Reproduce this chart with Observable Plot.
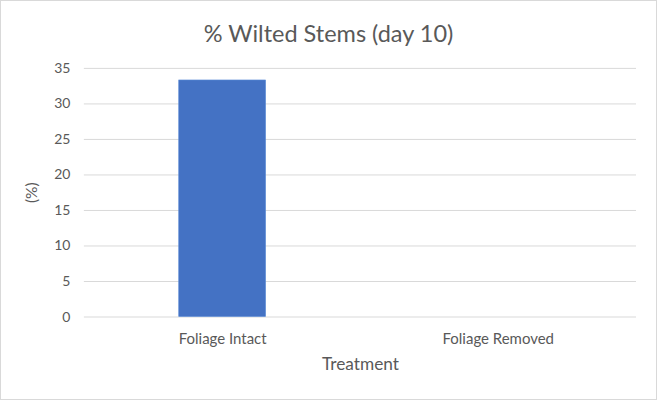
<!DOCTYPE html>
<html>
<head>
<meta charset="utf-8">
<script src="https://cdn.jsdelivr.net/npm/d3@7"></script>
<script src="https://cdn.jsdelivr.net/npm/@observablehq/plot@0.6"></script>
<style>
  html, body { margin: 0; padding: 0; background: #fff; }
  #wrap { position: relative; width: 657px; height: 400px; box-sizing: border-box; border: 1px solid #d9d9d9; overflow: hidden; font-family: Lato, "Open Sans", sans-serif; }
  #title { position: absolute; left: 0; right: 0; top: 16px; text-align: center; font-size: 23.5px; color: #595959; line-height: 32px; }
  #chart { position: absolute; left: -1px; top: -1px; }
</style>
</head>
<body>
<div id="wrap">
  <div id="chart"></div>
  <div id="title">% Wilted Stems (day 10)</div>
</div>
<script>
const categories = ["Foliage Intact", "Foliage Removed"];
const values = [33.3, 0];
const yTicks = [0, 5, 10, 15, 20, 25, 30, 35];
const xTitle = "Treatment";
const yTitle = "(%)";

const data = categories.map((c, i) => ({cat: c, val: values[i]}));

const chart = Plot.plot({
  width: 657,
  height: 400,
  marginTop: 68,
  marginBottom: 83,
  marginLeft: 84,
  marginRight: 20,
  style: {fontFamily: "Lato, 'Open Sans', sans-serif", fontSize: "15px", color: "#595959", background: "transparent"},
  x: {domain: categories, paddingInner: 0.686, paddingOuter: 0.343},
  y: {domain: [0, 35]},
  marks: [
    Plot.gridY(yTicks, {stroke: "#d9d9d9", strokeOpacity: 1, strokeWidth: 1}),
    Plot.barY(data, {x: "cat", y: "val", fill: "#4472c4", stroke: "#5b8bd6", strokeWidth: 0.6}),
    Plot.axisX({tickSize: 0, tickPadding: 16, label: null, fontSize: 15, color: "#595959"}),
    Plot.axisY(yTicks, {tickSize: 0, tickPadding: 14, label: null, fontSize: 14, color: "#595959"}),
    Plot.text([xTitle], {frameAnchor: "bottom", dy: 48, lineAnchor: "middle", textAnchor: "middle", fontSize: 17.3, fill: "#595959"}),
    Plot.text([yTitle], {frameAnchor: "left", dx: -52, rotate: -90, textAnchor: "middle", lineAnchor: "middle", fontSize: 15.5, fill: "#595959"})
  ]
});
document.getElementById("chart").appendChild(chart);
</script>
</body>
</html>
